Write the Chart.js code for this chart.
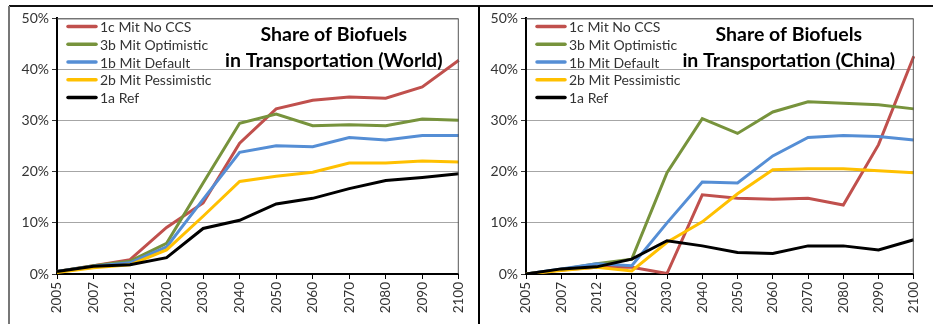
<!DOCTYPE html>
<html>
<head>
<meta charset="utf-8">
<script src="https://cdn.jsdelivr.net/npm/chart.js@4.4.1/dist/chart.umd.min.js"></script>
<style>
  body { margin: 0; background: #fff; }
  #wrap { position: relative; width: 933px; height: 324px; overflow: hidden; }
  .frameTop { position: absolute; left: 9px; top: 5px; width: 924px; height: 2px; background: #111; }
  .frameLeft { position: absolute; left: 8px; top: 6px; width: 2px; height: 318px; background: #777; }
  .divider { position: absolute; left: 478px; top: 6px; width: 2px; height: 318px; background: #000; }
  canvas { position: absolute; }
</style>
</head>
<body>
<div id="wrap">
  <div class="frameTop"></div>
  <div class="frameLeft"></div>
  <div class="divider"></div>
  <canvas id="chartWorld" style="left:10px;top:7px;width:468px;height:317px"></canvas>
  <canvas id="chartChina" style="left:480px;top:7px;width:453px;height:317px"></canvas>
</div>
<script>
// years on the x axis
var years = ["2005", "2007", "2012", "2020", "2030", "2040", "2050", "2060", "2070", "2080", "2090", "2100"];
var seriesNames = ["1c Mit No CCS", "3b Mit Optimistic", "1b Mit Default", "2b Mit Pessimistic", "1a Ref"];
var seriesColors = ["#C0504D", "#77933C", "#558ED5", "#FFC000", "#000000"];
var yTicks = [0, 10, 20, 30, 40, 50];

// World shares (%)
var worldNoCCS       = [0.5, 1.6, 2.8, 9.1, 13.9, 25.6, 32.3, 34.0, 34.6, 34.4, 36.6, 41.8];
var worldOptimistic  = [0.5, 1.6, 2.5, 6.0, 17.8, 29.5, 31.3, 29.0, 29.2, 29.0, 30.3, 30.1];
var worldDefault     = [0.5, 1.5, 2.2, 5.3, 14.6, 23.8, 25.1, 24.9, 26.7, 26.2, 27.1, 27.1];
var worldPessimistic = [0.3, 1.2, 1.8, 4.7, 11.3, 18.1, 19.1, 19.9, 21.7, 21.7, 22.1, 21.9];
var worldRef         = [0.5, 1.5, 1.8, 3.2, 8.9, 10.5, 13.7, 14.8, 16.7, 18.3, 18.9, 19.6];

// China shares (%)
var chinaNoCCS       = [0.0, 0.8, 1.3, 1.3, 0.1, 15.5, 14.8, 14.6, 14.8, 13.5, 25.3, 42.6];
var chinaOptimistic  = [0.0, 0.9, 2.0, 2.9, 19.8, 30.4, 27.5, 31.7, 33.7, 33.4, 33.1, 32.3];
var chinaDefault     = [0.0, 1.0, 2.0, 1.6, 10.0, 18.0, 17.8, 23.1, 26.7, 27.1, 26.9, 26.2];
var chinaPessimistic = [0.0, 0.7, 1.3, 0.6, 6.2, 10.2, 15.7, 20.4, 20.6, 20.6, 20.2, 19.8];
var chinaRef         = [0.0, 1.0, 1.4, 2.9, 6.5, 5.5, 4.2, 4.0, 5.5, 5.5, 4.7, 6.7];

var FONT = "Lato, 'Liberation Sans', sans-serif";

function makeDatasets(list) {
    var sets = [];
    for (var i = 0; i < list.length; i++) {
        sets.push({
            label: seriesNames[i],
            data: list[i],
            borderColor: seriesColors[i],
            backgroundColor: seriesColors[i],
            borderWidth: 3,
            pointRadius: 0,
            tension: 0,
            fill: false,
            order: list.length - i   // later series drawn on top, like Excel
        });
    }
    return sets;
}

// box, legend and title drawn inside the plot area
var panelPlugin = {
    id: "panel",
    afterDatasetsDraw: function(chart, args, opts) {
        var ctx = chart.ctx;
        var a = chart.chartArea;
        ctx.save();
        ctx.strokeStyle = "#555";
        ctx.lineWidth = 1;
        ctx.beginPath();
        ctx.moveTo(a.left, a.top + 0.5);
        ctx.lineTo(a.right - 0.5, a.top + 0.5);
        ctx.lineTo(a.right - 0.5, a.bottom);
        ctx.stroke();

        // legend
        var sets = chart.data.datasets;
        ctx.font = "14px " + FONT;
        ctx.textBaseline = "middle";
        ctx.lineCap = "round";
        for (var i = 0; i < sets.length; i++) {
            var y = a.top + 8 + i * 17.8;
            ctx.strokeStyle = sets[i].borderColor;
            ctx.lineWidth = 3.5;
            ctx.beginPath();
            ctx.moveTo(a.left + 11, y);
            ctx.lineTo(a.left + 39, y);
            ctx.stroke();
            ctx.fillStyle = "#333";
            ctx.fillText(sets[i].label, a.left + 43, y + 1);
        }

        // title
        ctx.fillStyle = "#000";
        ctx.textAlign = "center";
        ctx.font = "bold 19.5px " + FONT;
        var cx = a.right - 125;
        ctx.fillText(opts.line1, cx, a.top + 16);
        ctx.fillText(opts.line2, cx, a.top + 42);
        ctx.restore();
    }
};

function buildChart(id, list, place, padRight, yWidth) {
    var ctx = document.getElementById(id);
    return new Chart(ctx, {
        type: "line",
        data: { labels: years, datasets: makeDatasets(list) },
        plugins: [panelPlugin],
        options: {
            responsive: false,
            animation: false,
            layout: { padding: { top: 9, right: padRight, left: 0, bottom: 0 } },
            plugins: {
                legend: { display: false },
                tooltip: { enabled: false },
                panel: { line1: "Share of Biofuels", line2: "in Transportation (" + place + ")" }
            },
            scales: {
                x: {
                    offset: false,
                    afterFit: function(s) { s.height = 50; },
                    grid: { drawOnChartArea: false, tickLength: 5, color: "#000" },
                    border: { color: "#000", width: 2 },
                    ticks: { color: "#333", font: { size: 13.5, family: FONT }, minRotation: 90, maxRotation: 90, autoSkip: false, padding: 3 }
                },
                y: {
                    min: yTicks[0],
                    max: yTicks[yTicks.length - 1],
                    afterFit: function(s) { s.width = yWidth; },
                    afterBuildTicks: function(s) { s.ticks = yTicks.map(function(v) { return { value: v }; }); },
                    grid: { color: "#a6a6a6", lineWidth: 1, tickLength: 5, tickColor: "#333" },
                    border: { color: "#000", width: 2 },
                    ticks: {
                        color: "#333",
                        font: { size: 14, family: FONT },
                        padding: 3,
                        callback: function(v) { return v + "%"; }
                    }
                }
            }
        }
    });
}

function sizeCanvas(id) {
    var c = document.getElementById(id);
    c.width = parseInt(c.style.width);
    c.height = parseInt(c.style.height);
}
sizeCanvas("chartWorld");
sizeCanvas("chartChina");

buildChart("chartWorld",
    [worldNoCCS, worldOptimistic, worldDefault, worldPessimistic, worldRef],
    "World", 10, 47);
buildChart("chartChina",
    [chinaNoCCS, chinaOptimistic, chinaDefault, chinaPessimistic, chinaRef],
    "China", 9, 46);
</script>
</body>
</html>
